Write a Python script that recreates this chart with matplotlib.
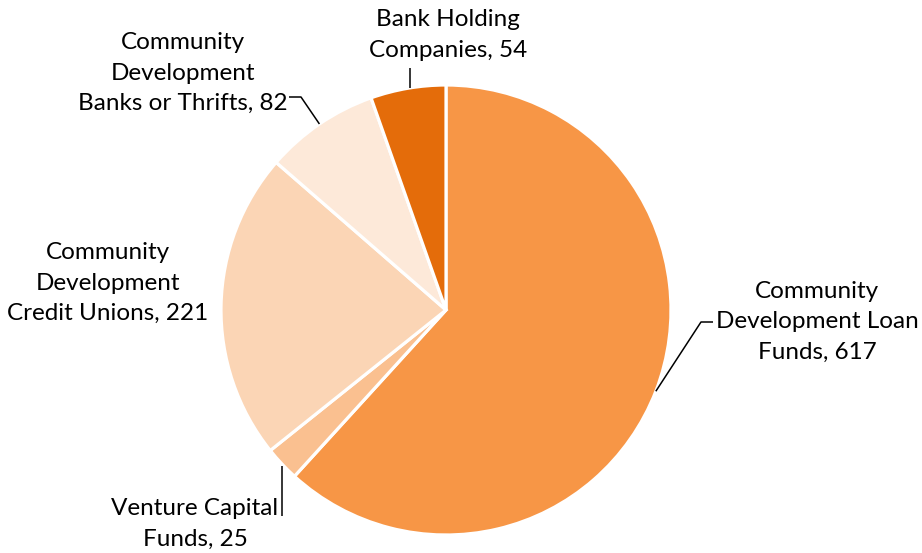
import matplotlib.pyplot as plt
import numpy as np

plt.rcParams['font.family'] = ['Lato', 'DejaVu Sans']

# data
labels = ['Community\nDevelopment Loan\nFunds', 'Venture Capital\nFunds',
          'Community\nDevelopment\nCredit Unions', 'Community\nDevelopment\nBanks or Thrifts',
          'Bank Holding\nCompanies']
values = [617, 25, 221, 82, 54]
colors = ['#F79646', '#FAC090', '#FBD5B5', '#FDE9D9', '#E46C0A']

W, H = 922, 553
fig = plt.figure(figsize=(W / 100, H / 100), dpi=100)
ax = fig.add_axes([0, 0, 1, 1])

cx, cy, r = 446, H - 310, 225
wedges, _ = ax.pie(values, colors=colors, startangle=90, counterclock=False,
                   center=(cx, cy), radius=r, frame=True,
                   wedgeprops=dict(edgecolor='white', linewidth=2.3))
ax.set_xlim(0, W)
ax.set_ylim(0, H)
ax.set_aspect('equal')
ax.axis('off')

# label text position (pixels from top) and leader line points
label_pos = [(817, 322), (195, 524), (108, 283), (183, 73), (448, 35)]
leaders = [
    [(713, 322), (701, 322)],
    [(282, 516), (282, 466)],
    None,
    [(289, 97), (301, 97)],
    [(410, 68), (410, 68)],
]

for w, v, lab, (tx, ty), ld in zip(wedges, values, labels, label_pos, leaders):
    ax.text(tx, H - ty, f'{lab}, {v}', ha='center', va='center',
            fontsize=17.5, color='#000000', linespacing=1.55)
    if ld is None:
        continue
    # point on the wedge edge where the leader ends
    theta = np.deg2rad((w.theta1 + w.theta2) / 2)
    ex, ey = cx + r * np.cos(theta), cy + r * np.sin(theta)
    xs = [p[0] for p in ld] + [ex]
    ys = [H - p[1] for p in ld] + [ey]
    if ld[0] == ld[1]:
        xs = [ld[0][0], ld[0][0]]
        ys = [H - ld[0][1], cy + np.sqrt(max(r**2 - (ld[0][0] - cx)**2, 0))]
    elif ld[0][0] == ld[1][0]:
        xs = [ld[0][0], ld[1][0]]
        ys = [H - ld[0][1], H - ld[1][1]]
    ax.plot(xs, ys, color='black', lw=1.1, solid_capstyle='butt')

fig.savefig('out.png', dpi=100)
